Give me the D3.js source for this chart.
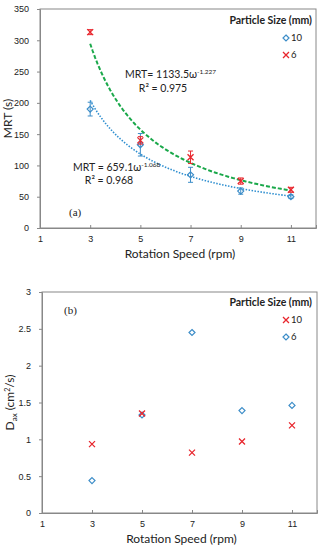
<!DOCTYPE html>
<html>
<head>
<meta charset="utf-8">
<script src="https://cdn.jsdelivr.net/npm/d3@7"></script>
<style>
  body { margin: 0; background: #fff; }
  svg { display: block; font-family: Lato, "Open Sans", sans-serif; }
  .tick text { font-size: 9px; fill: #222; }
</style>
</head>
<body>
<div id="chart"></div>
<script>
// 数据
var speeds = [3, 5, 7, 9, 11]
var xTicks = [1, 3, 5, 7, 9, 11]
// (a) MRT
var mrt10 = [190, 133, 85, 59, 50]
var mrt10Err = [11, 18, 12, 5, 3]
var mrt6 = [313, 140, 113, 75, 61]
var mrt6Err = [4, 6, 10, 5, 4]
var fit10 = [659.1, -1.068]
var fit6 = [1133.5, -1.227]
var mrtTicks = [0, 50, 100, 150, 200, 250, 300, 350]
// (b) Dax
var dax10 = [0.935, 1.35, 0.82, 0.97, 1.19]
var dax6 = [0.44, 1.33, 2.45, 1.39, 1.46]
var daxTicks = [0, 0.5, 1, 1.5, 2, 2.5, 3]

var blue = '#3c8dc8'
var red = '#e8262d'

var svg = d3.select('#chart').append('svg').attr('width', 324).attr('height', 550)

function diamond (g, x, y) {
  g.append('path')
    .attr('d', 'M' + x + ',' + (y - 3) + 'L' + (x + 3) + ',' + y + 'L' + x + ',' + (y + 3) + 'L' + (x - 3) + ',' + y + 'Z')
    .attr('fill', 'none').attr('stroke', blue).attr('stroke-width', 1.2)
}
function cross (g, x, y) {
  g.append('path')
    .attr('d', 'M' + (x - 3) + ',' + (y - 3) + 'L' + (x + 3) + ',' + (y + 3) + 'M' + (x + 3) + ',' + (y - 3) + 'L' + (x - 3) + ',' + (y + 3))
    .attr('stroke', red).attr('stroke-width', 1.3)
}

// 坐标系
function frame (box, yDomain, yTicks, yLabel) {
  var x = d3.scaleLinear().domain([1, 12]).range([box.left, box.right])
  var y = d3.scaleLinear().domain(yDomain).range([box.bottom, box.top])
  var g = svg.append('g')
  g.append('rect')
    .attr('x', box.left).attr('y', box.top)
    .attr('width', box.right - box.left).attr('height', box.bottom - box.top)
    .attr('fill', 'none').attr('stroke', '#888').attr('stroke-width', 1)
  var xa = g.append('g')
    .attr('transform', 'translate(0,' + box.bottom + ')')
    .call(d3.axisBottom(x).tickValues(xTicks).tickSize(-3).tickPadding(8))
  var ya = g.append('g')
    .attr('transform', 'translate(' + box.left + ',0)')
    .call(d3.axisLeft(y).tickValues(yTicks).tickFormat(function (d) { return d }).tickSize(3).tickPadding(8))
  ;[xa, ya].forEach(function (a) {
    a.select('.domain').attr('stroke', '#888')
    a.selectAll('.tick line').attr('stroke', '#888')
  })
  g.append('text')
    .attr('x', (box.left + box.right) / 2 + 2).attr('y', box.bottom + 30)
    .attr('text-anchor', 'middle').attr('font-size', 12).attr('fill', '#222')
    .text('Rotation Speed (rpm)')
  var yl = g.append('text')
    .attr('transform', 'translate(' + (box.left - 28) + ',' + ((box.top + box.bottom) / 2) + ') rotate(-90)')
    .attr('text-anchor', 'middle').attr('font-size', 12).attr('fill', '#222')
  yLabel(yl)
  return { g: g, x: x, y: y }
}

// (a)
var A = frame({ left: 40, right: 316, top: 9, bottom: 228 }, [0, 350], mrtTicks, function (t) {
  t.text('MRT (s)')
})
var curveX = d3.range(3, 11.001, 0.1)
var line = d3.line().x(function (d) { return A.x(d[0]) }).y(function (d) { return A.y(d[1]) })
A.g.append('path')
  .datum(curveX.map(function (v) { return [v, fit6[0] * Math.pow(v, fit6[1])] }))
  .attr('d', line).attr('fill', 'none')
  .attr('stroke', '#1aa84a').attr('stroke-width', 2).attr('stroke-dasharray', '4,2')
A.g.append('path')
  .datum(curveX.map(function (v) { return [v, fit10[0] * Math.pow(v, fit10[1])] }))
  .attr('d', line).attr('fill', 'none')
  .attr('stroke', '#2f8fd0').attr('stroke-width', 1.6).attr('stroke-dasharray', '1.5,1.5')

function errBar (g, x, y0, y1, color) {
  g.append('path')
    .attr('d', 'M' + x + ',' + y0 + 'V' + y1 + 'M' + (x - 2.5) + ',' + y0 + 'H' + (x + 2.5) + 'M' + (x - 2.5) + ',' + y1 + 'H' + (x + 2.5))
    .attr('stroke', color).attr('stroke-width', 1).attr('fill', 'none')
}
speeds.forEach(function (s, i) {
  errBar(A.g, A.x(s), A.y(mrt10[i] - mrt10Err[i]), A.y(mrt10[i] + mrt10Err[i]), blue)
  diamond(A.g, A.x(s), A.y(mrt10[i]))
  errBar(A.g, A.x(s), A.y(mrt6[i] - mrt6Err[i]), A.y(mrt6[i] + mrt6Err[i]), red)
  cross(A.g, A.x(s), A.y(mrt6[i]))
})

function eq (g, x, y, a, b) {
  var t = g.append('text').attr('x', x).attr('y', y).attr('font-size', 10.5).attr('fill', '#222')
  t.append('tspan').text(a)
  t.append('tspan').attr('dy', -4).attr('font-size', 6.5).text(b)
}
eq(A.g, 125, 78, 'MRT= 1133.5\u03c9', '-1.227')
A.g.append('text').attr('x', 163).attr('y', 92).attr('text-anchor', 'middle').attr('font-size', 10.5).attr('fill', '#222').text('R\u00b2 = 0.975')
eq(A.g, 73, 171, 'MRT = 659.1\u03c9', '-1.068')
A.g.append('text').attr('x', 109).attr('y', 184).attr('text-anchor', 'middle').attr('font-size', 10.5).attr('fill', '#222').text('R\u00b2 = 0.968')
A.g.append('text').attr('x', 69).attr('y', 216).attr('font-family', '"Liberation Serif", serif').attr('font-size', 11).attr('fill', '#222').text('(a)')

function legend (g, y0, first, second) {
  g.append('text').attr('x', 312).attr('y', y0).attr('text-anchor', 'end')
    .attr('font-size', 10.5).attr('font-weight', 'bold').attr('fill', '#222').text('Particle Size (mm)')
  ;[first, second].forEach(function (e, i) {
    var yy = y0 + 17 + i * 17
    e.mark(g, 286, yy - 3)
    g.append('text').attr('x', 291).attr('y', yy).attr('font-size', 9.5).attr('fill', '#222').text(e.label)
  })
}
legend(A.g, 24, { mark: diamond, label: '10' }, { mark: cross, label: '6' })

// (b)
var B = frame({ left: 42, right: 317, top: 292, bottom: 513 }, [0, 3], daxTicks, function (t) {
  t.append('tspan').text('D')
  t.append('tspan').attr('font-size', 8).attr('dy', 3).text('ax')
  t.append('tspan').attr('dy', -3).text('  (cm')
  t.append('tspan').attr('font-size', 7).attr('dy', -4).text('2')
  t.append('tspan').attr('dy', 4).text('/s)')
})
speeds.forEach(function (s, i) {
  diamond(B.g, B.x(s), B.y(dax6[i]))
  cross(B.g, B.x(s), B.y(dax10[i]))
})
B.g.append('text').attr('x', 64).attr('y', 314).attr('font-family', '"Liberation Serif", serif').attr('font-size', 11).attr('fill', '#222').text('(b)')
legend(B.g, 306, { mark: cross, label: '10' }, { mark: diamond, label: '6' })
</script>
</body>
</html>
